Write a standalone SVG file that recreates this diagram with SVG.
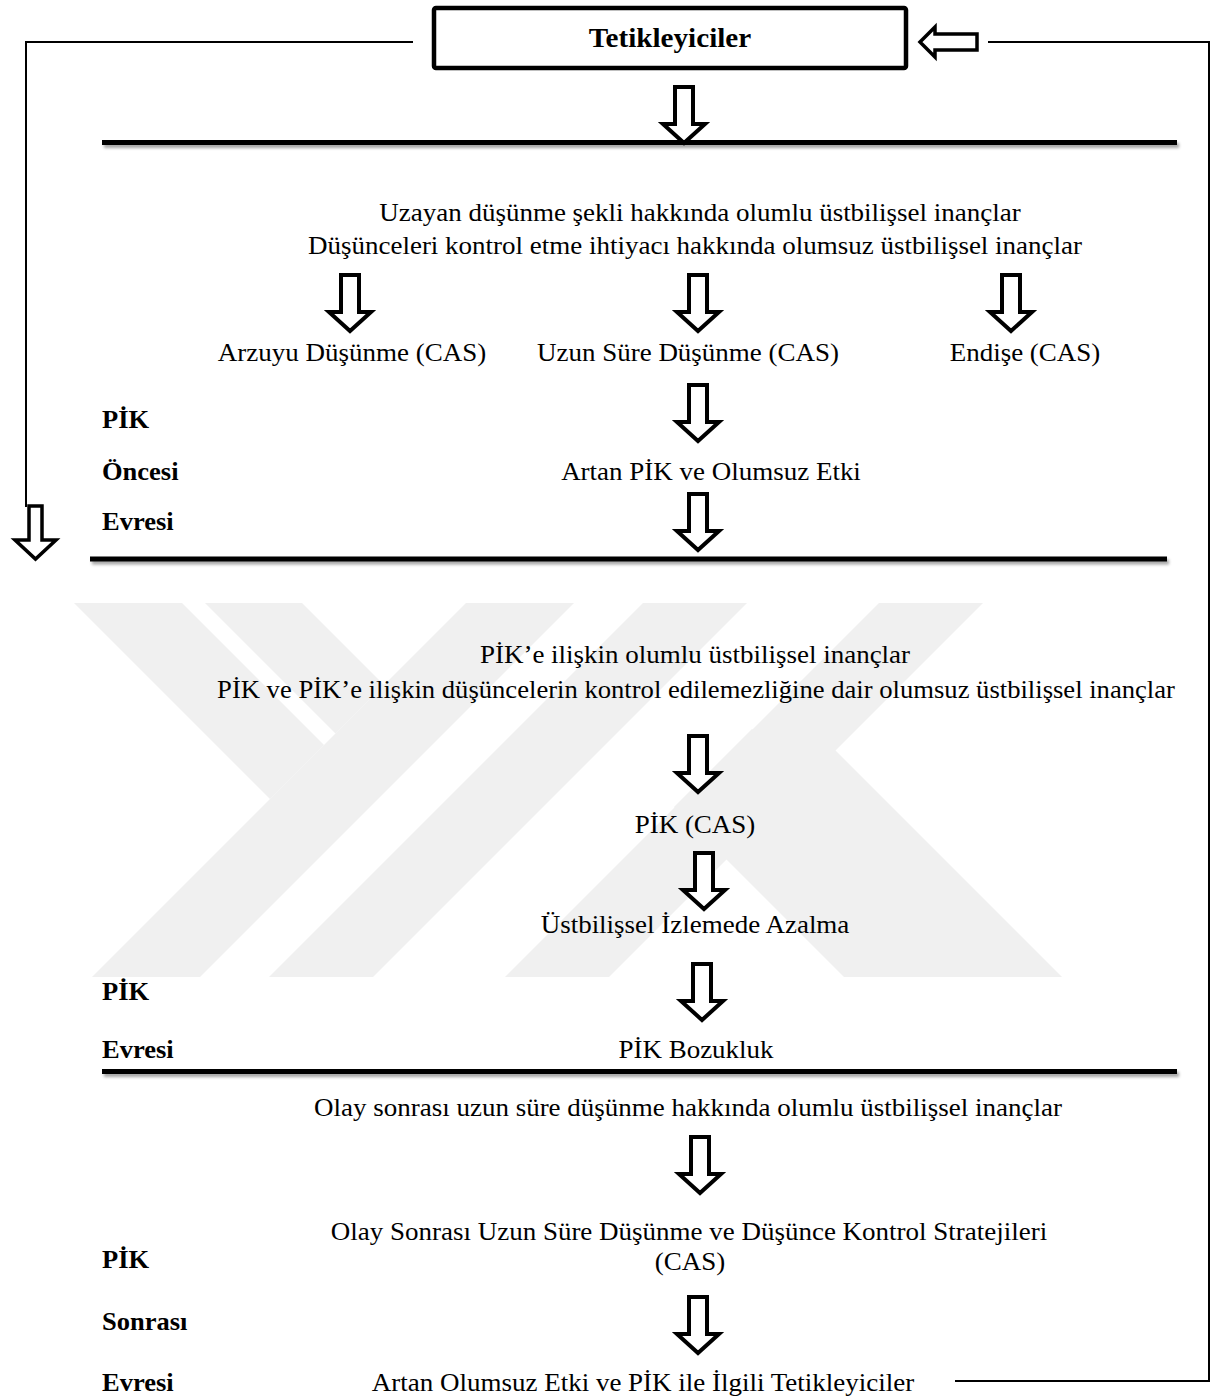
<svg xmlns="http://www.w3.org/2000/svg" xmlns:xlink="http://www.w3.org/1999/xlink" width="1214" height="1396" viewBox="0 0 1214 1396">
<style>
.t{font-family:"Liberation Serif","Times New Roman",serif;font-size:25px;fill:#000}
.b{font-weight:bold}
.m{text-anchor:middle}
.ar{fill:#fff;stroke:#000;stroke-width:4;stroke-linejoin:miter;stroke-miterlimit:10}
.ln{fill:none;stroke:#000;stroke-width:2}
.rule{fill:#000;filter:url(#sh)}
.wm{fill:#f0f0f0}
</style>
<defs>
<filter id="sh" x="-5%" y="-200%" width="110%" height="600%">
<feDropShadow dx="2" dy="3" stdDeviation="1.5" flood-color="#000" flood-opacity="0.35"/>
</filter>
<clipPath id="wmclip"><rect x="0" y="603" width="1214" height="374"/></clipPath>
<path id="da" d="M-9,0 H9 V37 H21 L0,56 L-21,37 H-9 Z"/>
</defs>
<rect width="1214" height="1396" fill="#fff"/>

<g id="watermark" clip-path="url(#wmclip)">
<polygon class="wm" points="466,603 574,603 200,977 92,977"/>
<polygon class="wm" points="74,603 182,603 324,745 270,799"/>
<polygon class="wm" points="643,603 747,603 373,977 269,977"/>
<polygon class="wm" points="205,603 302,603 384,685 335.5,733.5"/>
<polygon class="wm" points="879,603 983,603 609,977 505,977"/>
<polygon class="wm" points="674,807 752,729 1000,977 844,977"/>
<polygon class="wm" points="780,805 835,750 1062,977 952,977"/>
</g>

<g id="rules">
<rect class="rule" x="102" y="140" width="1075" height="5"/>
<rect class="rule" x="90" y="556.5" width="1077" height="5"/>
<rect class="rule" x="102" y="1069" width="1075" height="5"/>
</g>

<g id="connectors">
<polyline class="ln" points="413,42 26,42 26,507"/>
<polyline class="ln" points="988,42 1209,42 1209,1381 955,1381"/>
<path class="ar" style="stroke-width:3.5" d="M29,506 H42 V540 H56 L35.5,559 L15,540 H29 Z"/>
<path class="ar" style="stroke-width:3.5" d="M920,42 L935,27 V34 H977 V50 H935 V57 Z"/>
<use class="ar" xlink:href="#da" x="684" y="87"/>
<use class="ar" xlink:href="#da" x="350" y="275"/>
<use class="ar" xlink:href="#da" x="698" y="275"/>
<use class="ar" xlink:href="#da" x="1011" y="275"/>
<use class="ar" xlink:href="#da" x="698" y="385"/>
<use class="ar" xlink:href="#da" x="698" y="494"/>
<use class="ar" xlink:href="#da" x="698" y="736"/>
<use class="ar" xlink:href="#da" x="704" y="853"/>
<use class="ar" xlink:href="#da" x="702" y="964"/>
<use class="ar" xlink:href="#da" x="700" y="1137"/>
<use class="ar" xlink:href="#da" x="698" y="1297"/>
</g>

<g id="n-tetikleyiciler">
<rect x="434" y="8" width="472" height="60" rx="2" fill="#fff" stroke="#000" stroke-width="4.5"/>
<text class="t b m" style="font-size:27px" transform="translate(670,47) scale(1.08,1)">Tetikleyiciler</text>
</g>

<g id="n-inanclar1">
<text class="t m" transform="translate(700,221) scale(1.08,1)">Uzayan düşünme şekli hakkında olumlu üstbilişsel inançlar</text>
<text class="t m" transform="translate(695,254) scale(1.08,1)">Düşünceleri kontrol etme ihtiyacı hakkında olumsuz üstbilişsel inançlar</text>
</g>
<g id="n-arzuyu"><text class="t m" transform="translate(352,361) scale(1.08,1)">Arzuyu Düşünme (CAS)</text></g>
<g id="n-uzunsure"><text class="t m" transform="translate(688,361) scale(1.08,1)">Uzun Süre Düşünme (CAS)</text></g>
<g id="n-endise"><text class="t m" transform="translate(1025,361) scale(1.08,1)">Endişe (CAS)</text></g>
<g id="n-artanpik"><text class="t m" transform="translate(711,480) scale(1.08,1)">Artan PİK ve Olumsuz Etki</text></g>

<g id="labels-oncesi">
<text class="t b" transform="translate(102,428) scale(1.06,1)">PİK</text>
<text class="t b" transform="translate(102,480) scale(1.06,1)">Öncesi</text>
<text class="t b" transform="translate(102,530) scale(1.06,1)">Evresi</text>
</g>

<g id="n-inanclar2">
<text class="t m" transform="translate(695,663) scale(1.08,1)">PİK’e ilişkin olumlu üstbilişsel inançlar</text>
<text class="t m" transform="translate(696,698) scale(1.065,1)">PİK ve PİK’e ilişkin düşüncelerin kontrol edilemezliğine dair olumsuz üstbilişsel inançlar</text>
</g>
<g id="n-pikcas"><text class="t m" transform="translate(695,833) scale(1.08,1)">PİK (CAS)</text></g>
<g id="n-izleme"><text class="t m" transform="translate(695,933) scale(1.08,1)">Üstbilişsel İzlemede Azalma</text></g>
<g id="n-bozukluk"><text class="t m" transform="translate(696,1058) scale(1.08,1)">PİK Bozukluk</text></g>

<g id="labels-evre">
<text class="t b" transform="translate(102,1000) scale(1.06,1)">PİK</text>
<text class="t b" transform="translate(102,1058) scale(1.06,1)">Evresi</text>
</g>

<g id="n-inanclar3"><text class="t m" transform="translate(688,1116) scale(1.08,1)">Olay sonrası uzun süre düşünme hakkında olumlu üstbilişsel inançlar</text></g>
<g id="n-olaysonrasi">
<text class="t m" transform="translate(689,1240) scale(1.08,1)">Olay Sonrası Uzun Süre Düşünme ve Düşünce Kontrol Stratejileri</text>
<text class="t m" transform="translate(690,1270) scale(1.08,1)">(CAS)</text>
</g>
<g id="n-tetik2"><text class="t m" transform="translate(643,1391) scale(1.08,1)">Artan Olumsuz Etki ve PİK ile İlgili Tetikleyiciler</text></g>

<g id="labels-sonrasi">
<text class="t b" transform="translate(102,1268) scale(1.06,1)">PİK</text>
<text class="t b" transform="translate(102,1330) scale(1.06,1)">Sonrası</text>
<text class="t b" transform="translate(102,1391) scale(1.06,1)">Evresi</text>
</g>
</svg>
